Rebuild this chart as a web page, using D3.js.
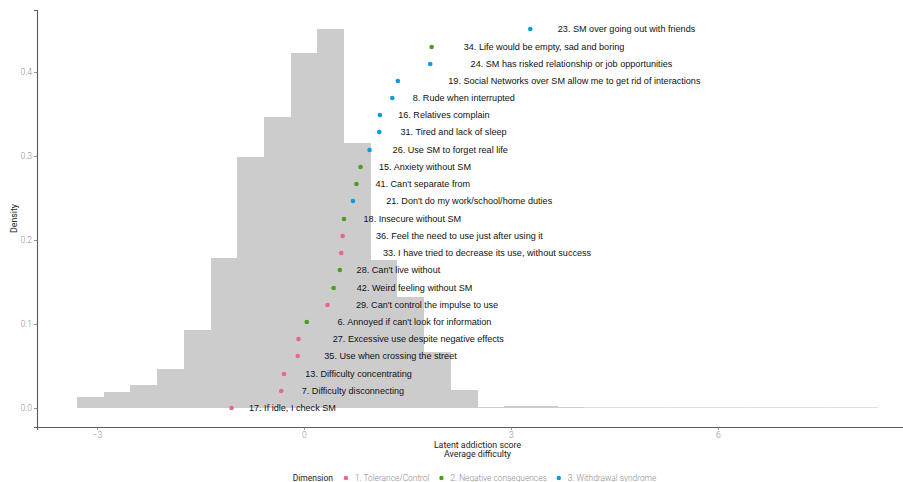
<!DOCTYPE html>
<html>
<head>
<meta charset="utf-8">
<script src="https://cdn.jsdelivr.net/npm/d3@7"></script>
<style>
  html, body { margin: 0; padding: 0; background: #fff; }
  svg { display: block; }
</style>
</head>
<body>
<svg id="chart" width="903" height="482"></svg>
<script>
// Histogram of latent addiction scores (30 equal bins)
const histStart = -3.29;
const binWidth = 0.387;
const binDensity = [0.0135, 0.019, 0.028, 0.0468, 0.093, 0.1786, 0.299, 0.346, 0.4226, 0.4508,
                    0.316, 0.176, 0.1325, 0.067, 0.022, 0.0012, 0.0028, 0.0028, 0.0012, 0.0008,
                    0.0008, 0.0008, 0.0008, 0.0008, 0.0008, 0.0008, 0.0008, 0.0008, 0.0008, 0.0008];

// Items, ordered by average difficulty
const itemLabels = [
  "17. If idle, I check SM",
  "7. Difficulty disconnecting",
  "13. Difficulty concentrating",
  "35. Use when crossing the street",
  "27. Excessive use despite negative effects",
  "6. Annoyed if can't look for information",
  "29. Can't control the impulse to use",
  "42. Weird feeling without SM",
  "28. Can't live without",
  "33. I have tried to decrease its use, without success",
  "36. Feel the need to use just after using it",
  "18. Insecure without SM",
  "21. Don't do my work/school/home duties",
  "41. Can't separate from",
  "15. Anxiety without SM",
  "26. Use SM to forget real life",
  "31. Tired and lack of sleep",
  "16. Relatives complain",
  "8. Rude when interrupted",
  "19. Social Networks over SM allow me to get rid of interactions",
  "24. SM has risked relationship or job opportunities",
  "34. Life would be empty, sad and boring",
  "23. SM over going out with friends"
];
const itemDimension = [1, 1, 1, 1, 1, 2, 1, 2, 2, 1, 1, 2, 3, 2, 2, 3, 3, 3, 3, 3, 3, 2, 3];
const itemDifficulty = [-1.05, -0.33, -0.29, -0.09, -0.08, 0.04, 0.34, 0.43, 0.52, 0.54, 0.56, 0.58,
                        0.71, 0.76, 0.82, 0.95, 1.09, 1.10, 1.28, 1.36, 1.83, 1.85, 3.28];
const itemHeight = [0, 0.0202, 0.0405, 0.0619, 0.0821, 0.1024, 0.1226, 0.1429, 0.1643, 0.1845, 0.2048,
                    0.225, 0.2464, 0.2667, 0.2869, 0.3071, 0.3286, 0.3488, 0.369, 0.3893, 0.4095,
                    0.4298, 0.4512];

const dimensionNames = ["1. Tolerance/Control", "2. Negative consequences", "3. Withdrawal syndrome"];
const dimensionColors = ["#E8668C", "#4C9E1E", "#0A9BDF"];

const xTicks = [-3, 0, 3, 6];
const yTicks = [0.0, 0.1, 0.2, 0.3, 0.4];

const svg = d3.select("#chart");

const histEnd = histStart + binWidth * binDensity.length;
const xPad = (histEnd - histStart) * 0.05;
const yMax = d3.max([d3.max(binDensity), d3.max(itemHeight)]);
const yPad = yMax * 0.05;

const x = d3.scaleLinear().domain([histStart - xPad, histEnd + xPad]).range([37, 918]);
const y = d3.scaleLinear().domain([-yPad, yMax + yPad]).range([427, 10]);
const color = d3.scaleOrdinal().domain([1, 2, 3]).range(dimensionColors);

const labelFont = "'Liberation Sans', Arial, Helvetica, sans-serif";
const thinFont = "Roboto, 'Noto Sans', sans-serif";

// Histogram bars: solid bins drawn crisp so neighbours join without seams,
// the near-empty tail bins left anti-aliased as a faint baseline
svg.append("g")
  .selectAll("rect")
  .data(binDensity)
  .join("rect")
  .attr("x", (d, i) => x(histStart + i * binWidth))
  .attr("width", (d, i) => x(histStart + (i + 1) * binWidth) - x(histStart + i * binWidth))
  .attr("y", d => y(d))
  .attr("height", d => y(0) - y(d))
  .attr("fill", "#CCCCCC")
  .attr("shape-rendering", d => d > 0.002 ? "crispEdges" : null);

// Axes
const xAxis = svg.append("g")
  .attr("transform", `translate(0,${y.range()[0]})`)
  .call(d3.axisBottom(x).tickValues(xTicks).tickSize(3).tickPadding(1.5)
        .tickFormat(d => d3.format("d")(d)));
const yAxis = svg.append("g")
  .attr("transform", `translate(${x.range()[0]},0)`)
  .call(d3.axisLeft(y).tickValues(yTicks).tickSize(3).tickPadding(2)
        .tickFormat(d3.format(".1f")));

[xAxis, yAxis].forEach(g => {
  g.select(".domain").attr("stroke", "#5a5a5a").attr("stroke-width", 1.1);
  g.selectAll(".tick line").attr("stroke", "#7a7a7a").attr("stroke-width", 0.8);
  g.selectAll(".tick text")
    .attr("fill", "#8f8f8f")
    .attr("font-family", thinFont)
    .attr("font-weight", 300)
    .attr("font-size", "8.6px");
});

// Item points and labels
const items = itemLabels.map((label, i) => ({
  label, dim: itemDimension[i], diff: itemDifficulty[i], h: itemHeight[i]
}));

svg.append("g")
  .selectAll("circle")
  .data(items)
  .join("circle")
  .attr("cx", d => x(d.diff))
  .attr("cy", d => y(d.h))
  .attr("r", 2.3)
  .attr("fill", d => color(d.dim));

const labels = svg.append("g")
  .selectAll("text")
  .data(items)
  .join("text")
  .attr("y", d => y(d.h))
  .attr("dy", "0.35em")
  .attr("font-family", labelFont)
  .attr("font-size", "9.1px")
  .attr("fill", "#111")
  .text(d => d.label);
// text placed with a horizontal justification of -0.2
labels.attr("x", function (d) {
  return x(d.diff) + 0.2 * this.getComputedTextLength();
});

// Axis titles
const xMid = (x.range()[0] + x.range()[1]) / 2;
svg.append("text")
  .attr("x", xMid).attr("y", 447.5)
  .attr("text-anchor", "middle")
  .attr("font-family", thinFont).attr("font-size", "8.8px").attr("fill", "#222")
  .text("Latent addiction score");
svg.append("text")
  .attr("x", xMid).attr("y", 457)
  .attr("text-anchor", "middle")
  .attr("font-family", thinFont).attr("font-size", "8.8px").attr("fill", "#222")
  .text("Average difficulty");
svg.append("text")
  .attr("transform", `translate(17,${(y.range()[0] + y.range()[1]) / 2}) rotate(-90)`)
  .attr("text-anchor", "middle")
  .attr("font-family", thinFont).attr("font-size", "8.8px").attr("fill", "#222")
  .text("Density");

// Legend
const legend = svg.append("g");
const legTitle = legend.append("text")
  .attr("x", 0).attr("dy", "0.35em")
  .attr("font-family", thinFont).attr("font-size", "8.5px").attr("fill", "#222")
  .text("Dimension");
let cursor = legTitle.node().getComputedTextLength() + 11;
dimensionNames.forEach((name, i) => {
  legend.append("circle")
    .attr("cx", cursor + 2).attr("cy", 0).attr("r", 2.2)
    .attr("fill", dimensionColors[i]);
  const t = legend.append("text")
    .attr("x", cursor + 11).attr("dy", "0.35em")
    .attr("font-family", thinFont).attr("font-weight", 300)
    .attr("font-size", "8.4px").attr("fill", "#8a8a8a")
    .text(name);
  cursor += 11 + t.node().getComputedTextLength() + 10;
});
const legendWidth = cursor - 10;
legend.attr("transform", `translate(${xMid - legendWidth / 2 - 3},478)`);
</script>
</body>
</html>
